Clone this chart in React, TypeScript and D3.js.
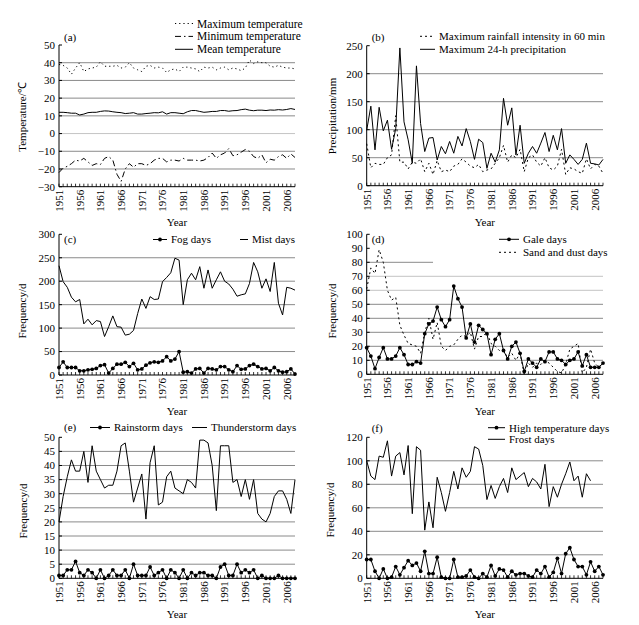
import React from 'react';
import * as d3 from 'd3';

const years = d3.range(1951, 2009);
const yearTicks = [1951, 1956, 1961, 1966, 1971, 1976, 1981, 1986, 1991, 1996, 2001, 2006];

// (a)
const maxTemp = [39, 38.5, 37, 33.5, 37, 40, 35, 36.5, 37, 37.5,
  40.5, 38, 38, 38, 38.5, 37, 37.5, 40, 37, 36,
  35, 38, 38.5, 37, 37.5, 37, 34.5, 36, 36.5, 35,
  37.5, 37.5, 37, 36.5, 35, 37.5, 37, 37.5, 36,
  37, 37.5, 36, 37, 36.5, 35.5, 37, 41.5, 39.5, 40.5, 40, 40, 38, 37.5, 38.5, 37.5, 37, 37, 36.5];
const minTemp = [-22, -19.5, -18.5, -17, -15, -15.5, -14, -16, -18, -17,
  -17.5, -14, -13, -15, -23, -27, -20, -17, -19, -17,
  -17, -18, -17, -15, -14, -14, -16, -15, -15, -15.5,
  -14, -15, -15, -15, -15.5, -15, -13.5, -11, -14, -12,
  -11, -8.5, -12.5, -12, -10.5, -9, -10, -13, -14, -12,
  -16.5, -14.5, -15, -13, -12, -14, -11.5, -13.5];
const meanTemp = [12, 12, 11.8, 11.5, 11.5, 10.5, 11, 11.8, 12, 12,
  12.5, 12.8, 12.7, 12.3, 12, 11.8, 11.3, 11.5, 11.8, 11,
  11, 11.3, 11.5, 11.8, 11.7, 12.3, 11, 11.8, 11.8, 11.5,
  11.2, 12.3, 13, 13, 12.5, 12, 12.2, 12.5, 12.5, 13,
  13, 12.6, 12.9, 13, 13.5, 13.8, 13.2, 12.9, 13.2, 13.2,
  13, 13.3, 13.2, 13.5, 13.3, 13.6, 14.1, 13.6];

// (b)
const rain60 = [75, 32, 40, 38, 38, 50, 55, 125, 42, 42,
  30, 42, 40, 48, 25, 40, 20, 45, 25, 28,
  25, 35, 38, 48, 42, 35, 32, 38, 25, 28,
  30, 40, 50, 72, 42, 55, 50, 65, 25, 50,
  55, 42, 35, 50, 32, 28, 35, 65, 20, 32,
  30, 25, 22, 48, 30, 38, 35, 22];
const precip24 = [99, 142, 64, 140, 98, 117, 65, 102, 246, 114,
  82, 40, 214, 111, 61, 85, 86, 46, 70, 57,
  79, 58, 88, 71, 102, 79, 47, 83, 77, 31,
  58, 42, 64, 156, 108, 139, 55, 108, 40, 58,
  70, 58, 76, 95, 61, 90, 64, 102, 40, 55,
  47, 38, 47, 76, 40, 39, 37, 47];

// (c)
const fogDays = [16, 28, 16, 16, 16, 9, 9, 11, 12, 14,
  20, 22, 4, 14, 23, 23, 27, 18, 25, 11,
  13, 21, 26, 28, 27, 30, 39, 30, 34, 50,
  6, 7, 4, 13, 14, 4, 14, 13, 11, 18,
  18, 11, 7, 20, 12, 13, 20, 23, 18, 13,
  14, 9, 16, 9, 6, 7, 13, 2];
const mistDays = [233, 199, 187, 166, 156, 161, 109, 119, 107, 116,
  114, 82, 103, 126, 103, 102, 85, 87, 95, 131,
  162, 142, 167, 161, 162, 199, 208, 218, 249, 245,
  150, 203, 217, 203, 231, 185, 224, 185, 203, 220,
  200, 194, 183, 168, 171, 173, 195, 240, 220, 185,
  205, 178, 240, 153, 128, 187, 185, 181];

// (d)
const galeDays = [19, 13, 4, 12, 19, 11, 11, 13, 19, 14,
  7, 7, 9, 8, 29, 36, 38, 48, 39, 34,
  39, 63, 54, 48, 26, 36, 23, 35, 32, 29,
  14, 25, 29, 17, 11, 20, 23, 15, 2, 11,
  8, 5, 11, 9, 16, 16, 11, 10, 7, 10,
  11, 16, 6, 14, 5, 5, 5, 8];
const sandDays = [61, 76, 72, 89, 80, 60, 53, 55, 35, 28,
  22, 21, 20, 15, 30, 40, 25, 37, 20, 17,
  20, 21, 25, 28, 27, 30, 18, 27, 27, 30,
  22, 20, 17, 17, 12, 15, 10, 15, 0, 8,
  5, 8, 7, 10, 8, 5, 2, 1, 7, 18,
  20, 22, 1, 5, 18, 8, 5, 8];

// (e)
const rainstormDays = [1, 1, 3, 3, 6, 2, 1, 3, 2, 0,
  3, 0, 1, 3, 1, 1, 3, 0, 5, 1,
  1, 1, 4, 1, 2, 3, 0, 3, 2, 0,
  3, 0, 2, 1, 2, 2, 1, 1, 0, 4,
  5, 1, 1, 5, 2, 3, 2, 3, 0, 1,
  0, 0, 0, 1, 0, 0, 0, 0];
const thunderDays = [20, 29, 36, 42, 38, 38, 45, 34, 47, 38,
  35, 32, 33, 33, 38, 47, 48, 38, 27, 32,
  37, 21, 41, 47, 26, 27, 36, 38, 32, 31,
  30, 35, 34, 32, 49, 49, 48, 40, 24, 47,
  47, 47, 34, 35, 29, 35, 28, 35, 23, 21,
  20, 23, 29, 31, 31, 28, 23, 35];

// (f)
const highTempDays = [16, 16, 6, 0, 8, 0, 1, 10, 3, 9,
  15, 11, 13, 6, 23, 4, 4, 18, 1, 0,
  0, 16, 1, 1, 2, 7, 1, 0, 4, 1,
  11, 2, 8, 7, 1, 6, 3, 4, 4, 2,
  1, 7, 4, 10, 1, 5, 17, 4, 21, 26,
  16, 10, 10, 3, 14, 6, 10, 3];
const frostDays = [100, 87, 84, 104, 103, 117, 87, 104, 107, 88,
  113, 55, 112, 109, 41, 65, 43, 86, 73, 57,
  73, 91, 76, 94, 86, 91, 112, 110, 96, 67,
  79, 68, 78, 85, 73, 94, 84, 87, 90, 78,
  85, 82, 76, 97, 61, 78, 69, 80, 89, 99,
  83, 87, 69, 89, 83];

const FONT = '"Liberation Serif", "Times New Roman", serif';
const GRID = '#8a8a8a';
const LIGHT = '#c4c4c4';

type Series = { values: number[]; dash?: string; marker?: boolean };
type Grid = { v: number; color?: string; toYear?: number };
type Leg = { x: number; y: number; len: number; text: string; dash?: string; marker?: boolean };

function Panel(p: {
  x0: number; x1: number; yTop: number; yBot: number;
  domain: [number, number]; ticks: number[]; grid: Grid[];
  series: Series[]; label: string; labelX: number; labelY: number;
  legend: Leg[]; legendSize?: number; yTitle: string; yTitleX: number; yTitleY: number; yearY: number;
}) {
  const x = d3.scaleLinear().domain([1951, 2008]).range([p.x0, p.x1]);
  const y = d3.scaleLinear().domain(p.domain).range([p.yBot, p.yTop]);
  const fmt = (v: number) => (v < 0 ? '\u2212' + Math.abs(v) : String(v));
  return (
    <g fontFamily={FONT} fontSize={11} fill="#000">
      {p.grid.map((g, i) => (
        <line key={'g' + i} x1={p.x0} x2={g.toYear ? x(g.toYear) : p.x1} y1={y(g.v)} y2={y(g.v)}
          stroke={g.color || GRID} strokeWidth={1} />
      ))}
      <line x1={p.x0} x2={p.x0} y1={p.yTop} y2={p.yBot} stroke="#000" strokeWidth={1} />
      <line x1={p.x0} x2={p.x1} y1={p.yBot} y2={p.yBot} stroke="#000" strokeWidth={1} />
      {p.ticks.map((t) => (
        <g key={'yt' + t}>
          <line x1={p.x0} x2={p.x0 + 3} y1={y(t)} y2={y(t)} stroke="#000" />
          <text x={p.x0 - 4} y={y(t)} dy="0.35em" textAnchor="end">{fmt(t)}</text>
        </g>
      ))}
      {years.map((yr) => (
        <line key={'xt' + yr} x1={x(yr)} x2={x(yr)} y1={p.yBot} y2={p.yBot - 3} stroke="#000" strokeWidth={0.8} />
      ))}
      {yearTicks.map((yr) => (
        <text key={'xl' + yr} transform={`translate(${x(yr)},${p.yBot + 3}) rotate(-90)`} dy="0.35em" textAnchor="end">{yr}</text>
      ))}
      <text x={(p.x0 + p.x1) / 2} y={p.yearY} dy="0.35em" textAnchor="middle">Year</text>
      <text transform={`translate(${p.yTitleX},${p.yTitleY}) rotate(-90)`} dy="0.35em" textAnchor="middle">{p.yTitle}</text>
      <text x={p.labelX} y={p.labelY} dy="0.35em">{p.label}</text>
      {p.series.map((s, i) => {
        const line = d3.line<number>().x((_, j) => x(years[j])).y((v) => y(v));
        return (
          <g key={'s' + i}>
            <path d={line(s.values) || ''} fill="none" stroke="#000" strokeWidth={1} strokeDasharray={s.dash} />
            {s.marker && s.values.map((v, j) => (
              <circle key={j} cx={x(years[j])} cy={y(v)} r={1.9} fill="#000" />
            ))}
          </g>
        );
      })}
      {p.legend.map((l, i) => (
        <g key={'l' + i}>
          <line x1={l.x} x2={l.x + l.len} y1={l.y} y2={l.y} stroke="#000" strokeWidth={1} strokeDasharray={l.dash} />
          {l.marker && <circle cx={l.x + l.len / 2} cy={l.y} r={1.9} fill="#000" />}
          <text x={l.x + l.len + 4} y={l.y} dy="0.35em" fontSize={p.legendSize || 11}>{l.text}</text>
        </g>
      ))}
    </g>
  );
}

const DOT = '1.2,3';
const DASHDOT = '6,3,1.5,3';

export default function App() {
  const LX0 = 59, LX1 = 295, RX0 = 366.7, RX1 = 603;
  const gridFrom = (vals: number[], color?: string): Grid[] => vals.map((v) => ({ v, color }));
  return (
    <svg width={639} height={625} style={{ position: 'absolute', left: 0, top: 0, background: '#fff' }}>
      <rect width={639} height={625} fill="#fff" />
      <Panel x0={LX0} x1={LX1} yTop={45} yBot={186.7} domain={[-30, 50]}
        ticks={[-30, -20, -10, 0, 10, 20, 30, 40, 50]}
        grid={[...gridFrom([-20, -10, 10, 20, 30, 40]), { v: 0, color: LIGHT }]}
        series={[{ values: maxTemp, dash: DOT }, { values: minTemp, dash: DASHDOT }, { values: meanTemp }]}
        label="(a)" labelX={64} labelY={37}
        legendSize={11.5}
        legend={[
          { x: 175, y: 23.5, len: 18, text: 'Maximum temperature', dash: DOT },
          { x: 175, y: 36.4, len: 18, text: 'Minimum temperature', dash: DASHDOT },
          { x: 175, y: 49.3, len: 18, text: 'Mean temperature' },
        ]}
        yTitle="Temperature/℃" yTitleX={22.5} yTitleY={117} yearY={222} />
      <Panel x0={RX0} x1={RX1} yTop={45.7} yBot={185.7} domain={[0, 250]}
        ticks={[0, 50, 100, 150, 200, 250]}
        grid={gridFrom([50, 100, 150, 200])}
        series={[{ values: rain60, dash: '2,3' }, { values: precip24 }]}
        label="(b)" labelX={371.7} labelY={37}
        legend={[
          { x: 420, y: 36.3, len: 15, text: 'Maximum rainfall intensity in 60 min', dash: '2,3' },
          { x: 420, y: 49.3, len: 15, text: 'Maximum 24-h precipitation' },
        ]}
        yTitle="Precipitation/mm" yTitleX={332} yTitleY={116} yearY={222} />
      <Panel x0={LX0} x1={LX1} yTop={234.3} yBot={375} domain={[0, 300]}
        ticks={[0, 50, 100, 150, 200, 250, 300]}
        grid={gridFrom([50, 100, 150, 200, 250])}
        series={[{ values: mistDays }, { values: fogDays, marker: true }]}
        label="(c)" labelX={64} labelY={239.5}
        legend={[
          { x: 153, y: 239.5, len: 14, text: 'Fog days', marker: true },
          { x: 240, y: 239.5, len: 8, text: 'Mist days' },
        ]}
        yTitle="Frequency/d" yTitleX={22.5} yTitleY={311} yearY={411} />
      <Panel x0={RX0} x1={RX1} yTop={234.3} yBot={374.3} domain={[0, 100]}
        ticks={[0, 10, 20, 30, 40, 50, 60, 70, 80, 90, 100]}
        grid={[...gridFrom([10, 20, 30, 40, 50]), ...gridFrom([60, 70], LIGHT), { v: 80, toYear: 1967 }]}
        series={[{ values: sandDays, dash: '2,3' }, { values: galeDays, marker: true }]}
        label="(d)" labelX={371.7} labelY={239.3}
        legend={[
          { x: 499, y: 239.3, len: 20, text: 'Gale days', marker: true },
          { x: 499, y: 252.3, len: 20, text: 'Sand and dust days', dash: '2,3' },
        ]}
        yTitle="Frequency/d" yTitleX={332} yTitleY={311} yearY={411} />
      <Panel x0={LX0} x1={LX1} yTop={437.3} yBot={578.3} domain={[0, 50]}
        ticks={[0, 5, 10, 15, 20, 25, 30, 35, 40, 45, 50]}
        grid={gridFrom([5, 10, 15, 20, 25, 30, 35, 40, 45])}
        series={[{ values: thunderDays }, { values: rainstormDays, marker: true }]}
        label="(e)" labelX={64} labelY={427.5}
        legend={[
          { x: 90, y: 427.5, len: 20, text: 'Rainstorm days', marker: true },
          { x: 192, y: 427.5, len: 15, text: 'Thunderstorm days' },
        ]}
        yTitle="Frequency/d" yTitleX={23} yTitleY={511} yearY={614} />
      <Panel x0={RX0} x1={RX1} yTop={437.3} yBot={578.3} domain={[0, 120]}
        ticks={[0, 20, 40, 60, 80, 100, 120]}
        grid={gridFrom([20, 40, 60, 80, 100])}
        series={[{ values: frostDays }, { values: highTempDays, marker: true }]}
        label="(f)" labelX={371.7} labelY={427.7}
        legend={[
          { x: 488, y: 427.7, len: 17, text: 'High temperature days', marker: true },
          { x: 488, y: 439.3, len: 17, text: 'Frost days' },
        ]}
        yTitle="Frequency/d" yTitleX={330} yTitleY={510} yearY={614} />
    </svg>
  );
}
